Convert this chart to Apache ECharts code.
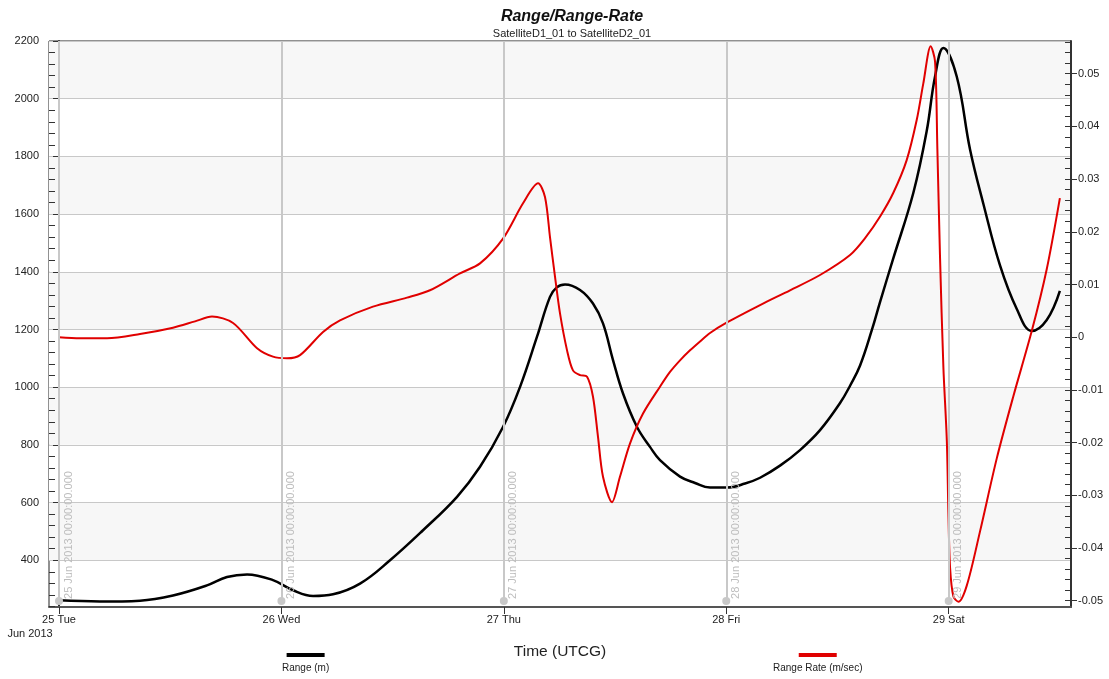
<!DOCTYPE html>
<html>
<head>
<meta charset="utf-8">
<script src="https://cdn.jsdelivr.net/npm/echarts@6/dist/echarts.min.js"></script>
<style>
  html, body { margin: 0; padding: 0; background: #fff; }
  #chart { width: 1109px; height: 679px; }
</style>
</head>
<body>
<div id="chart"></div>
<script>
// Horizontal axis is measured in hours after 25 Jun 2013 00:00:00 UTCG

// Range (m): sample times in hours, and values
const rangeHours = [0, 4.42, 8.74, 12.30, 15.97, 18.13, 20.29, 23.09, 25.25, 27.41, 29.57, 32.48, 35.72, 39.28, 42.95, 45.43, 47.91, 49.75, 51.58, 52.98, 53.71, 54.60, 56.22, 57.62, 58.70, 59.78, 60.86, 62.37, 63.77, 64.85, 67.01, 68.63, 70.25, 72.08, 74.03, 75.65, 77.80, 79.96, 82.12, 84.28, 85.36, 86.44, 87.73, 88.60, 90.03, 92.19, 93.63, 94.53, 95.43, 96.87, 98.30, 99.74, 101.54, 103.35, 104.97, 106.58, 108.0];
const rangeValues = [261, 257, 260, 278, 313, 342, 351, 331, 296, 276, 282, 319, 400, 504, 620, 724, 862, 1001, 1175, 1313, 1346, 1356, 1337, 1290, 1221, 1094, 978, 862, 793, 747, 690, 668, 652, 652, 666, 686, 728, 782, 851, 945, 1005, 1075, 1200, 1296, 1447, 1674, 1888, 2077, 2176, 2077, 1825, 1636, 1422, 1271, 1195, 1233, 1334];

// Range Rate (m/sec): sample times in hours, and values
const rateHours = [0, 2.27, 5.18, 8.74, 12.30, 14.68, 16.51, 18.78, 21.37, 23.09, 24.60, 26.01, 28.49, 30.32, 33.88, 37.55, 40.03, 43.27, 45.43, 47.91, 50.07, 51.69, 52.44, 52.98, 53.52, 54.06, 54.82, 55.46, 56.22, 56.98, 57.62, 58.16, 58.70, 59.67, 60.53, 61.61, 63.02, 64.85, 65.93, 67.01, 68.09, 69.17, 70.25, 72.08, 75.65, 78.88, 82.12, 85.36, 86.98, 88.60, 90.03, 91.47, 92.55, 93.26, 94.06, 94.53, 94.78, 95.07, 95.43, 95.80, 95.97, 96.15, 96.51, 97.05, 97.96, 99.39, 101.19, 102.98, 104.97, 106.58, 108.0];
const rateValues = [0.0000, -0.0002, -0.0002, 0.0006, 0.0018, 0.0030, 0.0039, 0.0027, -0.0021, -0.0037, -0.0040, -0.0034, 0.0010, 0.0032, 0.0058, 0.0075, 0.0089, 0.0121, 0.0140, 0.0187, 0.0254, 0.0292, 0.0266, 0.0190, 0.0115, 0.0045, -0.0025, -0.0063, -0.0072, -0.0075, -0.0113, -0.0189, -0.0265, -0.0313, -0.0265, -0.0202, -0.0145, -0.0094, -0.0066, -0.0044, -0.0025, -0.0008, 0.0008, 0.0028, 0.0061, 0.0089, 0.0118, 0.0156, 0.0188, 0.0229, 0.0274, 0.0336, 0.0412, 0.0481, 0.0552, 0.0523, 0.0357, 0.0150, -0.0057, -0.0196, -0.0333, -0.0437, -0.0492, -0.0502, -0.0471, -0.0368, -0.0230, -0.0112, 0.0012, 0.0129, 0.0264];

// Day ticks on the time axis (hours)
const dayHours = [0, 24, 48, 72, 96];
const dayLabels = ['25 Tue', '26 Wed', '27 Thu', '28 Fri', '29 Sat'];
const dayStamps = ['25 Jun 2013 00:00:00.000', '26 Jun 2013 00:00:00.000', '27 Jun 2013 00:00:00.000', '28 Jun 2013 00:00:00.000', '29 Jun 2013 00:00:00.000'];
const monthLabel = 'Jun 2013';

// Tick labels of the two value axes
const rangeTicks = [400, 600, 800, 1000, 1200, 1400, 1600, 1800, 2000, 2200];
const rateTicks = [-0.05, -0.04, -0.03, -0.02, -0.01, 0, 0.01, 0.02, 0.03, 0.04, 0.05];

const FONT = '"Liberation Sans", Arial, Helvetica, sans-serif';
const TIME_MIN = -1.08, TIME_MAX = 109.2;
const RANGE_MIN = 238, RANGE_MAX = 2200;
const RATE_MIN = -0.0512, RATE_MAX = 0.0562;

// minor ticks: five steps per labelled interval
function minorTicks(ticks, lo, hi, keepMajor) {
  const major = ticks[1] - ticks[0];
  const step = major / 5;
  const out = [];
  for (let k = Math.ceil(lo / step - 1e-9); k * step <= hi + 1e-12; k++) {
    const v = +(k * step).toFixed(6);
    const isMajor = Math.abs(v / major - Math.round(v / major)) < 1e-6;
    if (keepMajor || !isMajor) out.push(v);
  }
  return out;
}

const rangeData = rangeHours.map((h, i) => [h, rangeValues[i]]);
const rateData = rateHours.map((h, i) => [h, rateValues[i]]);

const chart = echarts.init(document.getElementById('chart'), null, { renderer: 'canvas' });

const legendText = (color) => ({
  fontFamily: FONT,
  rich: {
    bar: { width: 38, height: 4, backgroundColor: color, align: 'center' },
    txt: { fontSize: 10, color: '#222', padding: [6, 0, 0, 0], align: 'center', fontFamily: FONT }
  }
});

const option = {
  animation: false,
  backgroundColor: '#ffffff',
  textStyle: { fontFamily: FONT },
  title: {
    text: 'Range/Range-Rate',
    subtext: 'SatelliteD1_01 to SatelliteD2_01',
    left: 567,
    textAlign: 'center',
    top: 4,
    itemGap: 3,
    textStyle: { fontSize: 16, fontWeight: 'bold', fontStyle: 'italic', color: '#111', fontFamily: FONT },
    subtextStyle: { fontSize: 11, color: '#222', fontFamily: FONT }
  },
  legend: [
    {
      data: ['Range (m)'],
      left: 271, top: 644,
      selectedMode: false,
      itemWidth: 0, itemHeight: 0,
      formatter: n => '{bar|}\n{txt|' + n + '}',
      textStyle: legendText('#000')
    },
    {
      data: ['Range Rate (m/sec)'],
      left: 762, top: 644,
      selectedMode: false,
      itemWidth: 0, itemHeight: 0,
      formatter: n => '{bar|}\n{txt|' + n + '}',
      textStyle: legendText('#e00000')
    }
  ],
  grid: {
    left: 49, right: 38, top: 41, bottom: 72,
    show: true, borderColor: '#222', borderWidth: 1, backgroundColor: 'transparent'
  },
  xAxis: {
    type: 'value',
    min: TIME_MIN,
    max: TIME_MAX,
    name: 'Time (UTCG)',
    nameLocation: 'middle',
    nameGap: 21,
    nameTextStyle: { fontSize: 15.5, color: '#222', fontFamily: FONT },
    axisLine: { show: true, onZero: false, lineStyle: { color: '#555', width: 2 } },
    axisTick: { show: true, customValues: dayHours, length: 7, lineStyle: { color: '#333', width: 1 } },
    axisLabel: {
      customValues: dayHours,
      color: '#222', fontSize: 11, margin: 7, fontFamily: FONT,
      formatter: v => {
        const i = dayHours.indexOf(v);
        const txt = i >= 0 ? dayLabels[i] : '';
        return i === 0 ? txt + '\n{m|' + monthLabel + '}' : txt;
      },
      rich: { m: { fontSize: 11, color: '#222', align: 'left', padding: [3, 58, 0, 0], fontFamily: FONT } }
    },
    splitLine: { show: false }
  },
  yAxis: [
    {
      type: 'value', position: 'left', min: RANGE_MIN, max: RANGE_MAX,
      axisLine: { show: true, lineStyle: { color: '#333', width: 2 } },
      axisTick: { show: true, customValues: rangeTicks, length: 6, lineStyle: { color: '#333' } },
      axisLabel: { customValues: rangeTicks, color: '#222', fontSize: 11, margin: 10, fontFamily: FONT, formatter: v => String(v) },
      splitLine: { show: true, lineStyle: { color: '#c8c8c8', width: 1 } },
      splitArea: { show: true, areaStyle: { color: ['#f7f7f7', '#ffffff'] } }
    },
    {
      type: 'value', position: 'right', min: RATE_MIN, max: RATE_MAX,
      axisLine: { show: true, lineStyle: { color: '#333', width: 2 } },
      axisTick: { show: true, customValues: rateTicks, length: 6, lineStyle: { color: '#333' } },
      axisLabel: { customValues: rateTicks, color: '#222', fontSize: 11, margin: 7, fontFamily: FONT, formatter: v => String(v) },
      splitLine: { show: false }
    },
    {
      type: 'value', position: 'left', min: RANGE_MIN, max: RANGE_MAX,
      axisLine: { show: false },
      axisTick: { show: true, inside: true, customValues: minorTicks(rangeTicks, RANGE_MIN, RANGE_MAX, false), length: 6, lineStyle: { color: '#333' } },
      axisLabel: { show: false },
      splitLine: { show: false }
    },
    {
      type: 'value', position: 'right', min: RATE_MIN, max: RATE_MAX,
      axisLine: { show: false },
      axisTick: { show: true, inside: true, customValues: minorTicks(rateTicks, RATE_MIN, RATE_MAX, true), length: 6, lineStyle: { color: '#333' } },
      axisLabel: { show: false },
      splitLine: { show: false }
    }
  ],
  series: [
    {
      // day markers: vertical guide, dot and time stamp
      type: 'line', yAxisIndex: 0, data: [], z: 1, silent: true,
      markLine: {
        silent: true,
        symbol: ['circle', 'none'],
        symbolSize: 8,
        lineStyle: { color: '#c8c8c8', width: 2, type: 'solid' },
        label: {
          show: true, position: 'insideStartBottom', formatter: '{b}',
          color: '#bdbdbd', fontSize: 11, fontFamily: FONT, distance: [2, 4]
        },
        emphasis: { disabled: true },
        data: dayHours.map((t, i) => [
          { name: dayStamps[i], xAxis: t, yAxis: 259 },
          { xAxis: t, yAxis: RANGE_MAX }
        ])
      }
    },
    {
      name: 'Range (m)', type: 'line', yAxisIndex: 0, data: rangeData,
      showSymbol: false, smooth: 0.4, z: 3,
      lineStyle: { color: '#000', width: 2.5 }, itemStyle: { color: '#000' }
    },
    {
      name: 'Range Rate (m/sec)', type: 'line', yAxisIndex: 1, data: rateData,
      showSymbol: false, smooth: 0.3, z: 4,
      lineStyle: { color: '#e00000', width: 2 }, itemStyle: { color: '#e00000' }
    }
  ]
};

chart.setOption(option);
</script>
</body>
</html>
